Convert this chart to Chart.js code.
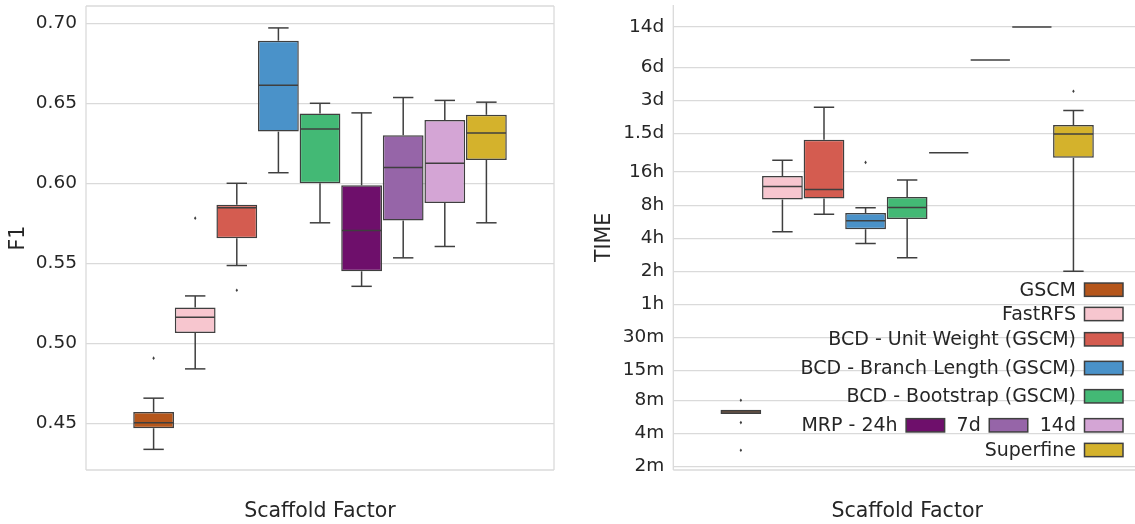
<!DOCTYPE html>
<html>
<head>
<meta charset="utf-8">
<script src="https://cdn.jsdelivr.net/npm/chart.js@4.4.1/dist/chart.umd.min.js"></script>
<style>
  html, body { margin: 0; padding: 0; background: #fff; overflow: hidden; width: 1135px; height: 524px; position: relative; }
  #f1wrap { position: absolute; left: 0; top: 0; width: 560px; height: 524px; }
  #timewrap { position: absolute; left: 580px; top: 0; width: 561px; height: 524px; }
</style>
</head>
<body>
<div id="f1wrap"><canvas id="f1"></canvas></div>
<div id="timewrap"><canvas id="time"></canvas></div>
<script>
// Methods compared, in plotting order
const methods = ['GSCM', 'FastRFS', 'BCD - Unit Weight (GSCM)', 'BCD - Branch Length (GSCM)',
  'BCD - Bootstrap (GSCM)', 'MRP - 24h', 'MRP - 7d', 'MRP - 14d', 'Superfine'];
const methodColors = ['#b5561b', '#f7c6cf', '#d45c50', '#4a92c9', '#43b975',
  '#6e0f6b', '#9665a8', '#d4a5d5', '#d4b22c'];

// F1 score summaries per method
const f1WhiskerLow  = [0.4337, 0.4840, 0.5486, 0.6066, 0.5753, 0.5356, 0.5534, 0.5605, 0.5753];
const f1Q1          = [0.4469, 0.5064, 0.5657, 0.6323, 0.6000, 0.5450, 0.5768, 0.5876, 0.6146];
const f1Median      = [0.4504, 0.5162, 0.5847, 0.6612, 0.6340, 0.5705, 0.6098, 0.6125, 0.6315];
const f1Q3          = [0.4571, 0.5223, 0.5866, 0.6891, 0.6436, 0.5987, 0.6300, 0.6396, 0.6428];
const f1WhiskerHigh = [0.4657, 0.5296, 0.6000, 0.6971, 0.6500, 0.6440, 0.6536, 0.6518, 0.6507];
const f1Outliers    = [[0.4907], [0.5782], [0.5331], [], [], [], [], [], []];
const f1Ticks       = [0.45, 0.50, 0.55, 0.60, 0.65, 0.70];

// Running time summaries per method, in minutes
const timeWhiskerLow  = [6.0, 274, 397, 214, 159, 1440, 10080, 20160, 120];
const timeQ1          = [6.0, 541, 552, 290, 358, 1440, 10080, 20160, 1299];
const timeMedian      = [6.25, 711, 667, 345, 457, 1440, 10080, 20160, 2137];
const timeQ3          = [6.55, 883, 1896, 406, 568, 1440, 10080, 20160, 2581];
const timeWhiskerHigh = [6.55, 1228, 3743, 454, 812, 1440, 10080, 20160, 3488];
const timeOutliers    = [[2.8, 5.0, 8.0], [], [], [1177], [], [], [], [], [5238]];
const timeTickValues  = [2, 4, 8, 15, 30, 60, 120, 240, 480, 960, 2160, 4320, 8640, 20160];
const timeTickLabels  = ['2m', '4m', '8m', '15m', '30m', '1h', '2h', '4h', '8h', '16h', '1.5d', '3d', '6d', '14d'];

// Legend: rows of method indices, with the label drawn for each entry
const legendRows   = [[0], [1], [2], [3], [4], [5, 6, 7], [8]];
const legendLabels = ['GSCM', 'FastRFS', 'BCD - Unit Weight (GSCM)', 'BCD - Branch Length (GSCM)',
  'BCD - Bootstrap (GSCM)', 'MRP - 24h', '7d', '14d', 'Superfine'];

const EDGE = '#3f3f3f';
const TEXT = '#262626';
const GRID = '#dadada';
const FONT = "'DejaVu Sans', sans-serif";
Chart.defaults.font.family = FONT;
Chart.defaults.color = TEXT;

function boxDatasets(q1, q3) {
  return methods.map((m, i) => ({
    label: m,
    data: [[q1[i], q3[i]]],
    backgroundColor: methodColors[i],
    borderColor: EDGE,
    borderWidth: 1.5,
    borderSkipped: false,
    barPercentage: 0.98,
    categoryPercentage: 0.8
  }));
}

// Whiskers, caps, medians and fliers on top of the floating bars
const boxPlot = {
  id: 'boxPlot',
  afterDatasetsDraw(chart, args, o) {
    const { ctx, chartArea } = chart;
    const ys = chart.scales.y;
    const py = v => ys.getPixelForValue(v);
    ctx.save();
    ctx.beginPath();
    ctx.rect(chartArea.left, chartArea.top, chartArea.right - chartArea.left, chartArea.bottom - chartArea.top);
    ctx.clip();
    ctx.strokeStyle = EDGE;
    ctx.fillStyle = EDGE;
    ctx.lineWidth = 1.5;
    chart.data.datasets.forEach((ds, i) => {
      const bar = chart.getDatasetMeta(i).data[0];
      const x = bar.x, w = bar.width;
      const seg = (x1, y1, x2, y2) => { ctx.beginPath(); ctx.moveTo(x1, y1); ctx.lineTo(x2, y2); ctx.stroke(); };
      if (o.lo[i] < o.q1[i]) {
        seg(x, py(o.q1[i]), x, py(o.lo[i]));
        seg(x - w / 4, py(o.lo[i]), x + w / 4, py(o.lo[i]));
      }
      if (o.hi[i] > o.q3[i]) {
        seg(x, py(o.q3[i]), x, py(o.hi[i]));
        seg(x - w / 4, py(o.hi[i]), x + w / 4, py(o.hi[i]));
      }
      seg(x - w / 2 + 0.75, py(o.med[i]), x + w / 2 - 0.75, py(o.med[i]));
      o.out[i].forEach(v => {
        const yy = py(v), r = 1.8;
        ctx.beginPath();
        ctx.moveTo(x, yy - r); ctx.lineTo(x + r * 0.7, yy); ctx.lineTo(x, yy + r); ctx.lineTo(x - r * 0.7, yy);
        ctx.closePath(); ctx.fill();
      });
    });
    ctx.restore();
  }
};

// Axes spines
const frame = {
  id: 'frame',
  afterDraw(chart, args, o) {
    const { ctx, chartArea: a } = chart;
    ctx.save();
    ctx.strokeStyle = GRID;
    ctx.lineWidth = 1.3;
    ctx.beginPath();
    if (o.left)   { ctx.moveTo(a.left, a.top); ctx.lineTo(a.left, a.bottom); }
    if (o.bottom) { ctx.moveTo(a.left, a.bottom); ctx.lineTo(a.right, a.bottom); }
    if (o.top)    { ctx.moveTo(a.left, a.top); ctx.lineTo(a.right, a.top); }
    if (o.right)  { ctx.moveTo(a.right, a.top); ctx.lineTo(a.right, a.bottom); }
    ctx.stroke();
    ctx.restore();
  }
};

// Lower-right legend: labels followed by colour patches
const rowLegend = {
  id: 'rowLegend',
  afterDraw(chart, args, o) {
    if (!o.show) return;
    const { ctx, chartArea: a } = chart;
    const rowCenters = [-180.3, -156, -130.7, -102, -73.7, -44.7, -20];
    const pw = 38.5, ph = 13.3, gapText = 8.5, gapEntry = 12;
    ctx.save();
    ctx.font = '19px ' + FONT;
    ctx.textAlign = 'right';
    ctx.textBaseline = 'middle';
    legendRows.forEach((row, r) => {
      const cy = a.bottom + rowCenters[r];
      let cx = a.right - 18;
      row.slice().reverse().forEach(idx => {
        ctx.fillStyle = methodColors[idx];
        ctx.fillRect(cx - pw, cy - ph / 2, pw, ph);
        ctx.strokeStyle = EDGE;
        ctx.lineWidth = 1.5;
        ctx.strokeRect(cx - pw, cy - ph / 2, pw, ph);
        cx -= pw + gapText;
        ctx.fillStyle = TEXT;
        ctx.fillText(legendLabels[idx], cx, cy + 1);
        cx -= ctx.measureText(legendLabels[idx]).width + gapEntry;
      });
    });
    ctx.restore();
  }
};

function makeChart(id, cfg) {
  return new Chart(document.getElementById(id), {
    type: 'bar',
    data: { labels: [''], datasets: boxDatasets(cfg.q1, cfg.q3) },
    plugins: [boxPlot, frame, rowLegend],
    options: {
      responsive: true,
      maintainAspectRatio: false,
      animation: false,
      events: [],
      layout: { padding: cfg.padding },
      plugins: {
        legend: { display: false },
        tooltip: { enabled: false },
        boxPlot: { lo: cfg.lo, q1: cfg.q1, med: cfg.med, q3: cfg.q3, hi: cfg.hi, out: cfg.out },
        frame: cfg.frame,
        rowLegend: { show: cfg.legend }
      },
      scales: {
        x: {
          grid: { display: false },
          border: { display: false },
          ticks: { display: false },
          title: { display: true, text: 'Scaffold Factor', font: { size: 20.5 }, color: TEXT, padding: { top: 0, bottom: 0 } },
          afterFit: s => { s.height = 54; s.paddingLeft = 0; s.paddingRight = 0; }
        },
        y: cfg.y
      }
    }
  });
}

makeChart('f1', {
  q1: f1Q1, q3: f1Q3, lo: f1WhiskerLow, hi: f1WhiskerHigh, med: f1Median, out: f1Outliers,
  padding: { top: 6, right: 6, left: 0, bottom: 0 },
  frame: { left: true, bottom: true, top: true, right: true },
  legend: false,
  y: {
    type: 'linear',
    min: 0.4208,
    max: 0.7108,
    bounds: 'data',
    grid: { color: GRID, lineWidth: 1.2, drawTicks: false },
    border: { display: false },
    ticks: { font: { size: 18.5 }, color: TEXT, padding: 9, callback: v => v.toFixed(2) },
    afterBuildTicks: s => { s.ticks = f1Ticks.map(v => ({ value: v })); },
    title: { display: true, text: 'F1', font: { size: 20.5 }, color: TEXT, padding: { top: 6, bottom: 0 } },
    afterFit: s => { s.width = 86; s.paddingTop = 0; s.paddingBottom = 0; }
  }
});

makeChart('time', {
  q1: timeQ1, q3: timeQ3, lo: timeWhiskerLow, hi: timeWhiskerHigh, med: timeMedian, out: timeOutliers,
  padding: { top: 5, right: 0, left: 0, bottom: 0 },
  frame: { left: true, bottom: true },
  legend: true,
  y: {
    type: 'logarithmic',
    min: 1.85,
    max: 32000,
    bounds: 'data',
    grid: { color: GRID, lineWidth: 1.2, drawTicks: false },
    border: { display: false },
    ticks: {
      font: { size: 18.5 }, color: TEXT, padding: 9, autoSkip: false,
      callback: v => { const k = timeTickValues.indexOf(v); return k < 0 ? '' : timeTickLabels[k]; }
    },
    afterBuildTicks: s => { s.ticks = timeTickValues.map(v => ({ value: v })); },
    title: { display: true, text: 'TIME', font: { size: 20.5 }, color: TEXT, padding: { top: 12, bottom: 0 } },
    afterFit: s => { s.width = 93.3; s.paddingTop = 0; s.paddingBottom = 0; }
  }
});
</script>
</body>
</html>
